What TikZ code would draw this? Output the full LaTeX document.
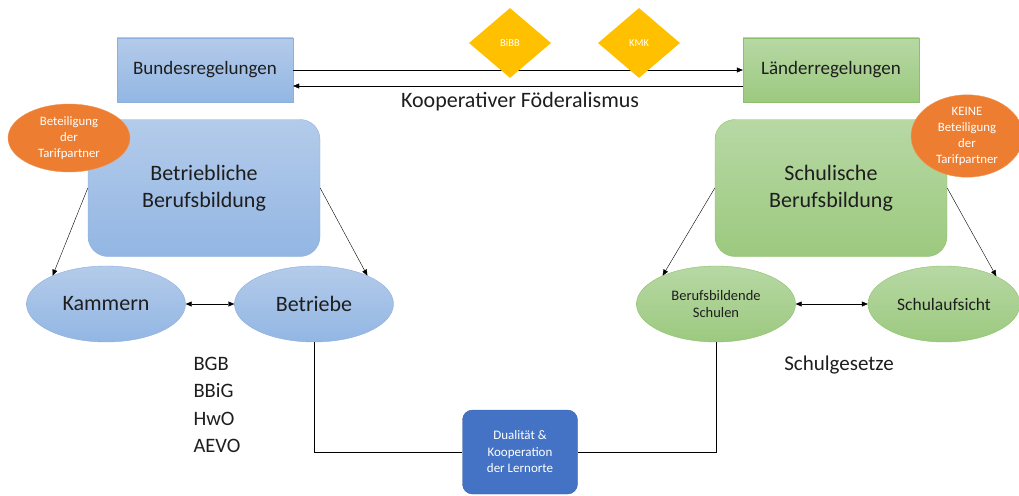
\documentclass[tikz,border=0pt]{standalone}
\usepackage{fontspec}
\setmainfont{Carlito}
\usetikzlibrary{shapes.geometric, arrows.meta, positioning}
\definecolor{blueedge}{RGB}{140,175,222}
\definecolor{bluetop}{RGB}{180,203,234}
\definecolor{bluebot}{RGB}{146,182,227}
\definecolor{greenedge}{RGB}{140,192,106}
\definecolor{greentop}{RGB}{183,216,164}
\definecolor{greenbot}{RGB}{156,201,127}
\definecolor{orangefill}{RGB}{237,125,49}
\definecolor{goldfill}{RGB}{255,192,0}
\definecolor{dualfill}{RGB}{68,114,196}
\definecolor{textcol}{RGB}{30,30,30}

\begin{document}
\begin{tikzpicture}[
			x=1pt,
			y=-1pt,
			bluefill/.style={
				draw=blueedge,
				top color=bluetop,
				bottom color=bluebot,
				text=textcol
			},
			greenfill/.style={
				draw=greenedge,
				top color=greentop,
				bottom color=greenbot,
				text=textcol
			},
			level/.style={
				rectangle,
				minimum width=176pt,
				minimum height=64pt,
				font=\fontsize{19}{23}\selectfont
			},
			area/.style={
				rectangle,
				rounded corners=20pt,
				minimum width=232pt,
				minimum height=137pt,
				align=center,
				font=\fontsize{22}{27}\selectfont
			},
			place/.style={
				ellipse,
				minimum width=159pt,
				minimum height=76pt,
				inner sep=0pt,
				align=center,
				font=\fontsize{22}{26}\selectfont
			},
			tarif/.style={
				ellipse,
				fill=orangefill,
				draw=orangefill!80!white,
				text=white,
				inner sep=0pt,
				align=center,
				font=\fontsize{12.8}{16}\selectfont
			},
			gremium/.style={
				diamond,
				fill=goldfill,
				minimum width=82pt,
				minimum height=70pt,
				inner sep=0pt,
				text=white,
				font=\fontsize{10.5}{12}\selectfont
			},
			link/.style={
				-{Triangle[length=6pt,width=5pt]},
				thin
			},
			both/.style={
				{Triangle[length=6pt,width=5pt]}-{Triangle[length=6pt,width=5pt]},
				thin
			}
			]
			\useasboundingbox (0,0) rectangle (1019,495);
			
			% Levels
			\node[level, bluefill] (bund) at (205,70) {Bundesregelungen};
			\node[level, greenfill] (laender) at (831,70) {Länderregelungen};
			\node[font=\fontsize{22}{26}\selectfont, text=textcol] (foed) at (520,102) {Kooperativer Föderalismus};
			
			\draw[link] (bund.east) -- (laender.west);
			\draw[link] ([yshift=-16pt]laender.west) -- ([yshift=-16pt]bund.west -| bund.east);
			
			\node[gremium] (bibb) at (510,43) {BiBB};
			\node[gremium] (kmk) at (639,43) {KMK};
			
			% Areas
			\node[area, bluefill] (betrieb) at (204,188) {Betriebliche\\Berufsbildung};
			\node[area, greenfill] (schule) at (831,188) {Schulische\\Berufsbildung};
			
			\node[tarif, minimum width=122pt, minimum height=68pt] (tarifl) at (69,138) {Beteiligung\\der\\Tarifpartner};
			\node[tarif, minimum width=112pt, minimum height=76pt] (tarifr) at (967,136) {KEINE\\Beteiligung\\der\\Tarifpartner};
			
			% Places
			\node[place, bluefill] (kammern) at (106,304) {Kammern};
			\node[place, bluefill] (betriebe) at (314,304) {Betriebe};
			\node[place, greenfill, font=\fontsize{14.5}{17}\selectfont] (bbs) at (716,304) {Berufsbildende\\Schulen};
			\node[place, greenfill, minimum width=152pt, font=\fontsize{17.5}{21}\selectfont] (aufsicht) at (944,304) {Schulaufsicht};
			
			\draw[link] (betrieb.west) -- (kammern.152);
			\draw[link] (betrieb.east) -- (betriebe.28);
			\draw[link] (schule.west) -- (bbs.152);
			\draw[link] (schule.east) -- (aufsicht.28);
			\draw[both] (kammern.east) -- (betriebe.west);
			\draw[both] (bbs.east) -- (aufsicht.west);
			
			% Laws
			\node[anchor=west, align=left, text=textcol, font=\fontsize{20.5}{27.5}\selectfont] (bgesetze) at (190,405) {BGB\\BBiG\\HwO\\AEVO};
			\node[text=textcol, font=\fontsize{21}{26}\selectfont] (sgesetze) at (839,365) {Schulgesetze};
			
			% Learning sites
			\node[rectangle, rounded corners=10pt, fill=dualfill, draw=dualfill!85!black, minimum width=115pt, minimum height=84pt, text=white, align=center, font=\fontsize{13}{16.5}\selectfont] (dual) at (520,452) {Dualität \&\\Kooperation\\der Lernorte};
			
			\draw[thin] (betriebe.south) |- (dual.west);
			\draw[thin] (bbs.south) |- (dual.east);
		\end{tikzpicture}
\end{document}
